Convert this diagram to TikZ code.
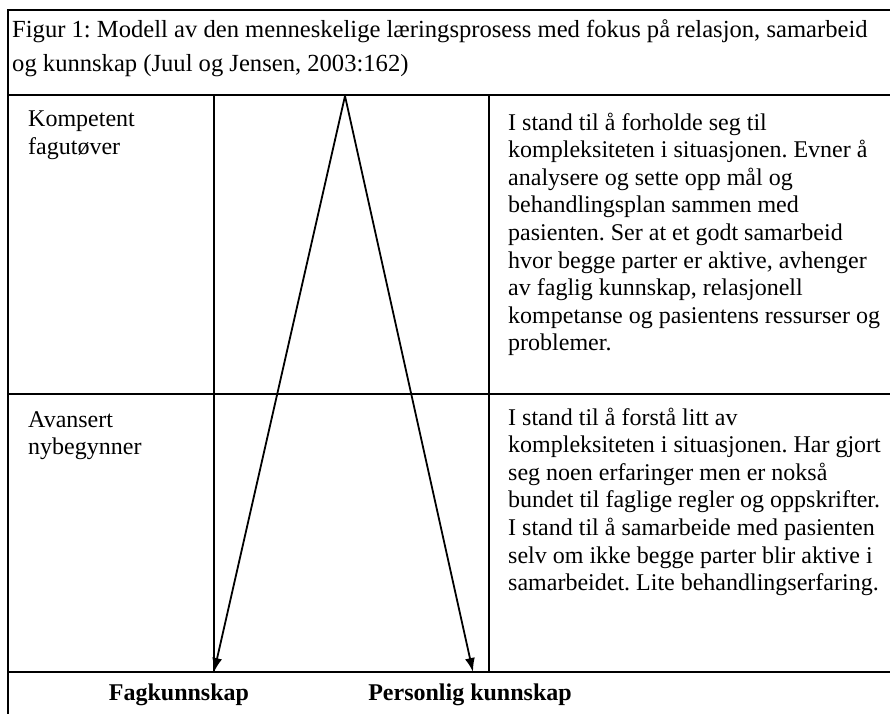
\documentclass[tikz,border=0pt]{standalone}
\usepackage{fontspec}
\setmainfont{Liberation Serif}
\usetikzlibrary{arrows.meta}
\frenchspacing

\begin{document}
\begin{tikzpicture}[x=1pt, y=-1pt,
        rule/.style={line width=2pt},
        cell/.style={anchor=base west, align=left, inner sep=0pt, font=\fontsize{24}{27.6}\selectfont},
        title/.style={anchor=base west, align=left, inner sep=0pt, font=\fontsize{24.6}{34}\selectfont},
        axislabel/.style={anchor=base, inner sep=0pt, font=\fontsize{24}{27}\selectfont\bfseries},
        knowarrow/.style={line width=1.8pt, -{Latex[length=14pt, width=10pt]}}]
        \useasboundingbox (0, 0) rectangle (890, 714);
        \draw[rule] (890, 10) -- (8, 10) -- (8, 714);
        \draw[rule] (8, 95) -- (890, 95);
        \draw[rule] (8, 394) -- (890, 394);
        \draw[rule] (8, 672) -- (890, 672);
        \draw[rule] (214, 95) -- (214, 672);
        \draw[rule] (489, 95) -- (489, 672);

        \node[title] (caption) at (12, 72) {Figur 1: Modell av den menneskelige læringsprosess med fokus på relasjon, samarbeid\\og kunnskap (Juul og Jensen, 2003:162)};

        \node[cell] (kompetent) at (28, 154.6) {Kompetent\\fagutøver};
        \node[cell] (avansert) at (28, 454.6) {Avansert\\nybegynner};

        \node[cell] (kompetanse) at (508, 350.8) {I stand til å forholde seg til\\kompleksiteten i situasjonen. Evner å\\analysere og sette opp mål og\\behandlingsplan sammen med\\pasienten. Ser at et godt samarbeid\\hvor begge parter er aktive, avhenger\\av faglig kunnskap, relasjonell\\kompetanse og pasientens ressurser og\\problemer.};
        \node[cell] (nybegynner) at (508, 590.6) {I stand til å forstå litt av\\kompleksiteten i situasjonen. Har gjort\\seg noen erfaringer men er nokså\\bundet til faglige regler og oppskrifter.\\I stand til å samarbeide med pasienten\\selv om ikke begge parter blir aktive i\\samarbeidet. Lite behandlingserfaring.};

        \coordinate (apex) at (345, 96);
        \coordinate (fagend) at (214, 672);
        \coordinate (persend) at (473, 672);
        \draw[knowarrow] (apex) -- (fagend);
        \draw[knowarrow] (apex) -- (persend);

        \node[axislabel] (fag) at (179, 700) {Fagkunnskap};
        \node[axislabel] (pers) at (470, 700) {Personlig kunnskap};
\end{tikzpicture}
\end{document}
